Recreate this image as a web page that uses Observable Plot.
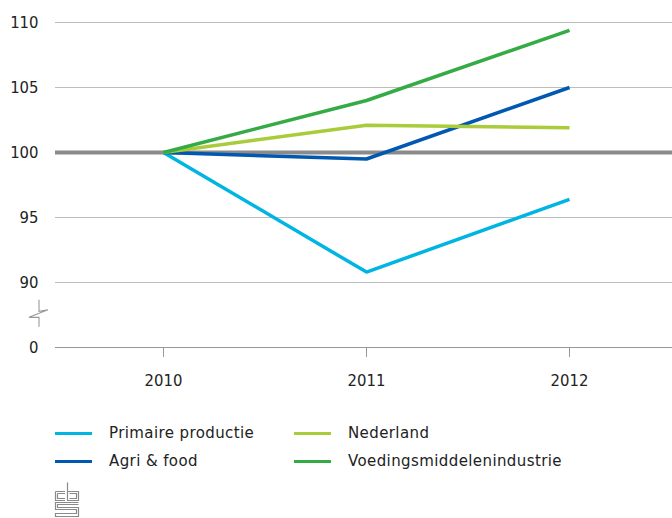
<!DOCTYPE html>
<html>
<head>
<meta charset="utf-8">
<script src="https://cdn.jsdelivr.net/npm/d3@7"></script>
<script src="https://cdn.jsdelivr.net/npm/@observablehq/plot@0.6"></script>
<style>
  body { margin: 0; background: #fff; font-family: "DejaVu Sans", sans-serif; }
  #chart { width: 672px; }
  #chart svg text { font-family: "DejaVu Sans Condensed", "DejaVu Sans", sans-serif; font-size: 16.5px; fill: #222; }
  .legend { position: relative; height: 126px; font-size: 15px; color: #222; letter-spacing: 0.4px; }
  .item { position: absolute; display: flex; align-items: center; }
  .sw { width: 37px; height: 3px; margin-right: 17px; }
  .logo { position: absolute; left: 54px; top: 89px; }
</style>
</head>
<body>
<div id="chart"></div>
<script>
const years = [2010, 2011, 2012];
const seriesNames = ["Primaire productie", "Agri & food", "Nederland", "Voedingsmiddelenindustrie"];
const primaire = [100, 90.8, 96.4];
const agri = [100, 99.5, 105.0];
const nederland = [100, 102.1, 101.9];
const voedings = [100, 104.0, 109.4];
const colors = ["#00b5e2", "#0058b0", "#a8cc3a", "#35ab45"];
const yTicks = [85, 90, 95, 100, 105, 110];
const yTickLabels = ["0", "90", "95", "100", "105", "110"];
const breakValue = 87.55; // axis break drawn between 0 and 90

const values = [primaire, agri, nederland, voedings];
const data = [];
seriesNames.forEach((s, i) => years.forEach((yr, j) => data.push({series: s, year: yr, value: values[i][j]})));

const breakMark = (index, scales, vals, dims) => {
  const y = scales.y(breakValue);
  const x = dims.marginLeft - 16;
  const g = document.createElementNS("http://www.w3.org/2000/svg", "path");
  g.setAttribute("d", `M${x},${y-14}V${y-2.5}L${x+9},${y-4}L${x-10},${y+3.5}L${x},${y+3.5}V${y+13}`);
  g.setAttribute("stroke", "#999");
  g.setAttribute("fill", "none");
  g.setAttribute("stroke-width", "1.1");
  return g;
};

const chart = Plot.plot({
  width: 672,
  height: 392,
  marginLeft: 55,
  marginRight: 0,
  marginTop: 22,
  marginBottom: 45,
  style: {fontFamily: "DejaVu Sans Condensed, DejaVu Sans, sans-serif", fontSize: "16px", color: "#222"},
  x: {domain: [2010, 2012], range: [163, 569], label: null},
  y: {domain: [85, 110], label: null},
  color: {domain: seriesNames, range: colors},
  marks: [
    Plot.ruleY(yTicks.filter(d => d !== 100 && d !== 85), {stroke: "#bdbdbd", strokeWidth: 1.2}),
    Plot.ruleY([85], {stroke: "#999", strokeWidth: 1.2}),
    Plot.ruleY([100], {stroke: "#8a8a8a", strokeWidth: 4}),
    Plot.axisX({ticks: years, tickSize: 10, tickPadding: 17, stroke: "#999", tickFormat: d => String(d)}),
    Plot.axisY({ticks: yTicks, tickSize: 0, tickPadding: 17, tickFormat: d => yTickLabels[yTicks.indexOf(d)]}),
    Plot.line(data, {x: "year", y: "value", z: "series", stroke: "series", strokeWidth: 3.5, strokeLinejoin: "miter", strokeLinecap: "butt"}),
    breakMark
  ]
});
document.getElementById("chart").appendChild(chart);

// legend
const legend = document.createElement("div");
legend.className = "legend";
const pos = [[55, 0], [55, 28], [294, 0], [294, 28]];
seriesNames.forEach((s, i) => {
  const it = document.createElement("div");
  it.className = "item";
  it.style.left = pos[i][0] + "px";
  it.style.top = (pos[i][1] + 32) + "px";
  it.innerHTML = `<span class="sw" style="background:${colors[i]}"></span><span>${s}</span>`;
  legend.appendChild(it);
});
// logo (simplified)
const logo = document.createElement("div");
logo.className = "logo";
logo.innerHTML = `<svg width="26" height="37" viewBox="0 0 26 37" fill="none" stroke="#8a8a8a" stroke-width="1.2">
<path d="M1.5,10.5H11M1.5,10.5V19.5H11M3.5,12.5H11M3.5,12.5V17.5H11"/>
<path d="M13.5,1.5V19.5H24.5V10.5H13.5M15.5,12.5H22.5V17.5H15.5"/>
<path d="M24.5,21.5H1.5V28.5H22.5V32.5H1.5V35.5H24.5V26.5H3.5V23.5H24.5"/></svg>`;
legend.appendChild(logo);
document.getElementById("chart").appendChild(legend);
</script>
</body>
</html>
